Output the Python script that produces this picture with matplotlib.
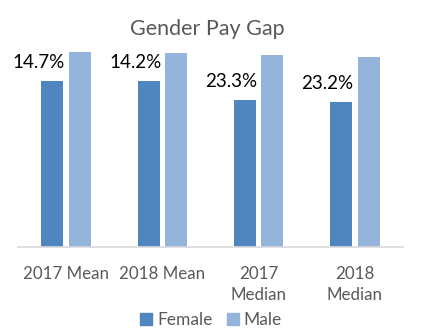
import matplotlib
matplotlib.use("Agg")
import matplotlib.pyplot as plt
import numpy as np
from matplotlib.patches import Patch

categories = ["2017 Mean", "2018 Mean", "2017\nMedian", "2018\nMedian"]
male = [19.5, 19.4, 19.2, 19.0]
female = [16.6, 16.6, 14.7, 14.5]
gap_labels = ["14.7%", "14.2%", "23.3%", "23.2%"]

female_color = "#4f86bf"
male_color = "#95b4db"
text_gray = "#595959"
font = ["Lato", "DejaVu Sans"]

fig = plt.figure(figsize=(4.21, 3.31), dpi=100)
W, H = 421, 331
ax = fig.add_axes([18 / W, (H - 247) / H, (403 - 18) / W, 207 / H])

x = np.arange(len(categories))
bw = 0.23
off = 0.143
ax.bar(x - off, female, bw, color=female_color, label="Female")
ax.bar(x + off, male, bw, color=male_color, label="Male")

for i, (f, lab) in enumerate(zip(female, gap_labels)):
    ax.annotate(lab, (x[i] - off - 0.14, f), xytext=(0, 13.5),
                textcoords="offset points", ha="center", va="center",
                fontsize=13.5, family=font, color="black")

ax.set_xlim(-0.5, len(categories) - 0.5)
ax.set_ylim(0, 20.7)
ax.set_yticks([])
ax.set_xticks(x)
ax.set_xticklabels(categories, fontsize=12.2, family=font, color=text_gray,
                   linespacing=1.35)
ax.tick_params(axis="x", length=0, pad=14)
for s in ["top", "right", "left"]:
    ax.spines[s].set_visible(False)
ax.spines["bottom"].set_color("#d9d9d9")
ax.spines["bottom"].set_linewidth(1.2)
ax.patch.set_alpha(0)

fig.text(207 / W, 1 - 29 / H, "Gender Pay Gap", ha="center", va="center",
         fontsize=15.5, family=font, color=text_gray)

handles = [Patch(color=female_color, label="Female"),
           Patch(color=male_color, label="Male")]
fig.legend(handles=handles, loc="center", bbox_to_anchor=(211 / W, 1 - 320 / H),
           ncol=2, frameon=False, prop={"family": font, "size": 12.5},
           handlelength=0.7, handleheight=0.7, handletextpad=0.3,
           columnspacing=0.8, labelcolor=text_gray)

fig.savefig("out.png", dpi=100, facecolor="white")
